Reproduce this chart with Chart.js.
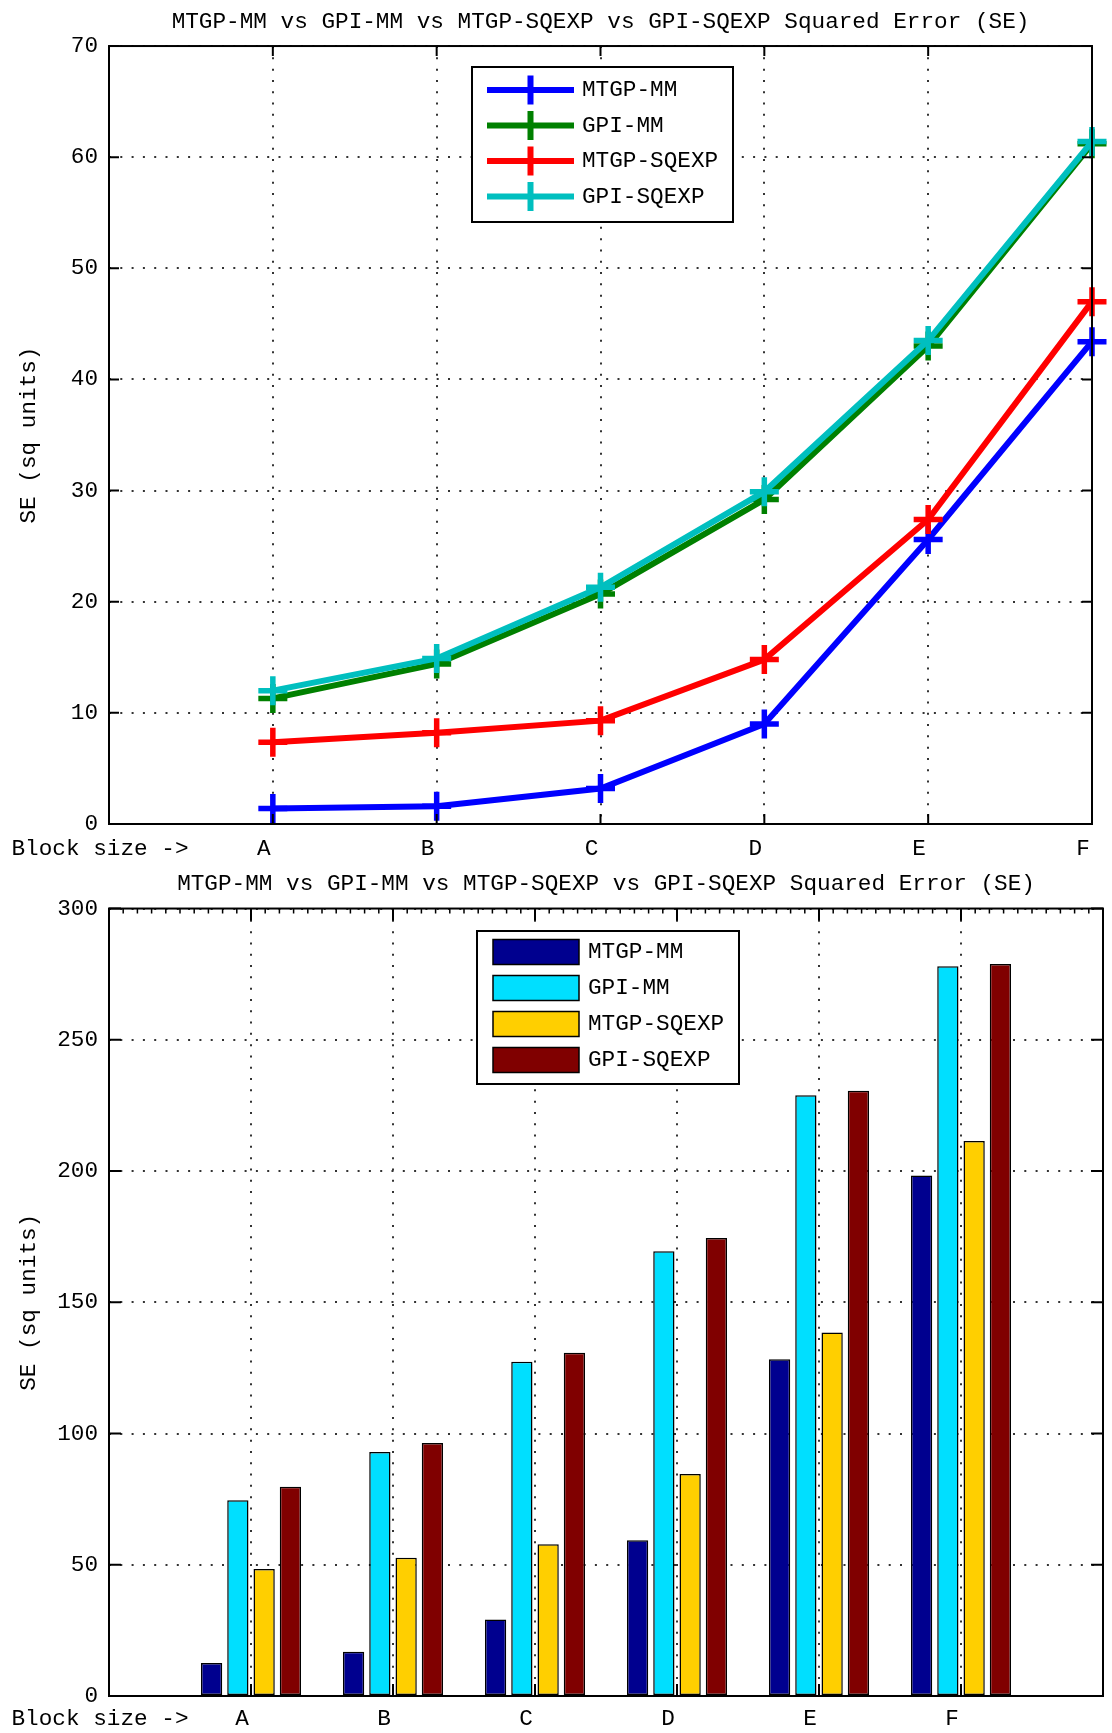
<!DOCTYPE html>
<html>
<head>
<meta charset="utf-8">
<script src="https://cdn.jsdelivr.net/npm/chart.js@4.4.1/dist/chart.umd.min.js"></script>
<style>
  html, body { margin: 0; padding: 0; background: #fff; }
  body { width: 1112px; height: 1733px; position: relative; overflow: hidden; }
  canvas { position: absolute; left: 0; }
  #lineCanvas { top: 0; }
  #barCanvas { top: 866px; }
</style>
</head>
<body>
<canvas id="lineCanvas" width="1112" height="866"></canvas>
<canvas id="barCanvas" width="1112" height="867"></canvas>
<script>
// ---- data ----
const chartTitle = 'MTGP-MM vs GPI-MM vs MTGP-SQEXP vs GPI-SQEXP Squared Error (SE)';
const axisLead = 'Block size ->';
const blockSizes = ['A', 'B', 'C', 'D', 'E', 'F'];
const seriesNames = ['MTGP-MM', 'GPI-MM', 'MTGP-SQEXP', 'GPI-SQEXP'];
const yTitle = 'SE (sq units)';

// line chart values (per block size)
const lineMtgpMm  = [1.4, 1.6, 3.2, 9.0, 25.6, 43.4];
const lineGpiMm   = [11.3, 14.4, 20.7, 29.2, 43.0, 61.2];
const lineMtgpSq  = [7.35, 8.2, 9.3, 14.8, 27.4, 47.0];
const lineGpiSq   = [12.0, 14.9, 21.3, 29.9, 43.5, 61.4];

// bar chart values (per block size)
const barMtgpMm  = [12.6, 16.9, 29.1, 59.3, 128.3, 198.3];
const barGpiMm   = [74.6, 93.0, 127.3, 169.4, 228.9, 278.0];
const barMtgpSq  = [48.4, 52.7, 57.8, 84.6, 138.5, 211.4];
const barGpiSq   = [79.7, 96.4, 130.8, 174.5, 230.6, 278.9];

// ---- styling ----
const FONT = { family: "'Liberation Mono', 'DejaVu Sans Mono', monospace", size: 22.7, weight: 'normal' };
const lineColors = ['#0000FF', '#008000', '#FF0000', '#00BFBF'];
const barColors = ['#00008F', '#00DFFF', '#FFCF00', '#800000'];
const gridStyle = { display: true, color: '#333', lineWidth: 2, drawTicks: false };
const gridBorder = { display: false, dash: [2, 9.3] };

// axes frame with inward tick marks (drawn over the data like a plot box)
const axesBox = {
  id: 'axesBox',
  afterDatasetsDraw(chart, args, o) {
    const { ctx, chartArea: a } = chart;
    const x = chart.scales.x, y = chart.scales.y;
    ctx.save();
    ctx.strokeStyle = '#000';
    ctx.lineWidth = 2;
    ctx.beginPath();
    o.xTicks.forEach(v => {
      const px = x.getPixelForValue(v);
      ctx.moveTo(px, a.bottom); ctx.lineTo(px, a.bottom - o.tickLen);
      ctx.moveTo(px, a.top); ctx.lineTo(px, a.top + o.tickLen);
    });
    y.ticks.forEach(t => {
      const py = y.getPixelForValue(t.value);
      ctx.moveTo(a.left, py); ctx.lineTo(a.left + o.tickLen, py);
      ctx.moveTo(a.right, py); ctx.lineTo(a.right - o.tickLen, py);
    });
    ctx.stroke();
    if (o.minorPerStep) {
      ctx.lineWidth = 1.5;
      ctx.beginPath();
      const n = (x.max - x.min) * o.minorPerStep;
      for (let k = 1; k < n; k++) {
        if (k % o.minorPerStep === 0) continue;
        const px = x.getPixelForValue(x.min + k / o.minorPerStep);
        ctx.moveTo(px, a.top); ctx.lineTo(px, a.top + o.minorLen);
      }
      ctx.stroke();
    }
    ctx.lineWidth = 2;
    ctx.strokeRect(a.left, a.top, a.width, a.height);
    ctx.restore();
  }
};

// boxed legend inside the plot
const boxLegend = {
  id: 'boxLegend',
  afterDraw(chart, args, o) {
    const { ctx } = chart;
    const [l, t, r, b] = o.box;
    ctx.save();
    ctx.fillStyle = '#fff';
    ctx.fillRect(l, t, r - l, b - t);
    ctx.strokeStyle = '#000';
    ctx.lineWidth = 2;
    ctx.strokeRect(l, t, r - l, b - t);
    ctx.font = `${FONT.size}px ${FONT.family}`;
    ctx.textBaseline = 'middle';
    ctx.textAlign = 'left';
    chart.data.datasets.forEach((ds, i) => {
      const yy = o.rowTop + i * o.rowGap;
      const [x0, x1] = o.sample;
      if (o.kind === 'line') {
        ctx.strokeStyle = ds.borderColor;
        ctx.lineWidth = ds.borderWidth;
        ctx.beginPath();
        ctx.moveTo(x0, yy); ctx.lineTo(x1, yy);
        const cx = (x0 + x1) / 2, rr = ds.pointRadius;
        ctx.moveTo(cx, yy - rr); ctx.lineTo(cx, yy + rr);
        ctx.stroke();
      } else {
        ctx.fillStyle = ds.backgroundColor;
        ctx.fillRect(x0, yy - o.swatchH / 2, x1 - x0, o.swatchH);
        ctx.strokeStyle = '#000';
        ctx.lineWidth = 1.5;
        ctx.strokeRect(x0, yy - o.swatchH / 2, x1 - x0, o.swatchH);
      }
      ctx.fillStyle = '#000';
      ctx.fillText(ds.label, o.textX, yy);
    });
    ctx.restore();
  }
};

function yScale(max, step, width) {
  return {
    type: 'linear', min: 0, max: max,
    ticks: { stepSize: step, font: FONT, color: '#000', padding: 11 },
    grid: gridStyle, border: gridBorder,
    title: { display: true, text: yTitle, font: FONT, color: '#000', padding: { top: 15.4, bottom: 0 } },
    afterFit(s) { s.width = width; }
  };
}

function xScale(labels, height, pad) {
  return {
    type: 'category', labels: labels, offset: false,
    ticks: { font: FONT, color: '#000', padding: pad, labelOffset: -9, autoSkip: false, maxRotation: 0, minRotation: 0 },
    grid: Object.assign({}, gridStyle, { offset: false }), border: gridBorder,
    afterFit(s) { s.height = height; }
  };
}

// ---- line chart ----
const lineSeries = [lineMtgpMm, lineGpiMm, lineMtgpSq, lineGpiSq];
new Chart(document.getElementById('lineCanvas'), {
  type: 'line',
  data: {
    labels: [axisLead, ...blockSizes],
    datasets: lineSeries.map((vals, i) => ({
      label: seriesNames[i],
      data: [null, ...vals],
      borderColor: lineColors[i],
      backgroundColor: lineColors[i],
      borderWidth: 6,
      pointStyle: 'cross',
      pointRadius: 14.5,
      pointBorderWidth: 5.5,
      pointBorderColor: lineColors[i],
      tension: 0,
      clip: false,
      order: lineSeries.length - i
    }))
  },
  options: {
    responsive: false, animation: false, events: [],
    layout: { padding: { left: 0, right: 16, top: 0, bottom: 0 } },
    plugins: {
      legend: { display: false }, tooltip: { enabled: false },
      title: { display: true, text: chartTitle, font: FONT, color: '#000', fullSize: false, padding: { top: 8.4, bottom: 10.4 } },
      axesBox: { xTicks: [1, 2, 3, 4, 5, 6], tickLen: 10 },
      boxLegend: { kind: 'line', box: [472, 67, 733, 222], rowTop: 90, rowGap: 35.5, sample: [487, 574], textX: 582 }
    },
    scales: {
      x: xScale([axisLead, ...blockSizes], 42, 11),
      y: yScale(70, 10, 109)
    }
  },
  plugins: [axesBox, boxLegend]
});

// ---- bar chart ----
const barSeries = [barMtgpMm, barGpiMm, barMtgpSq, barGpiSq];
new Chart(document.getElementById('barCanvas'), {
  type: 'bar',
  data: {
    labels: [axisLead, ...blockSizes, ''],
    datasets: barSeries.map((vals, i) => ({
      label: seriesNames[i],
      data: [null, ...vals, null],
      backgroundColor: barColors[i],
      borderColor: '#000',
      borderWidth: 1.5,
      borderSkipped: false,
      categoryPercentage: 0.74,
      barPercentage: 0.81
    }))
  },
  options: {
    responsive: false, animation: false, events: [],
    layout: { padding: { left: 0, right: 7, top: 0, bottom: 0 } },
    plugins: {
      legend: { display: false }, tooltip: { enabled: false },
      title: { display: true, text: chartTitle, font: FONT, color: '#000', fullSize: false, padding: { top: 4.4, bottom: 10.9 } },
      axesBox: { xTicks: [1, 2, 3, 4, 5, 6], tickLen: 12, minorPerStep: 10, minorLen: 5 },
      boxLegend: { kind: 'bar', box: [477, 65, 739, 218], rowTop: 86, rowGap: 36, sample: [493, 579], swatchH: 25, textX: 588 }
    },
    scales: {
      x: xScale([axisLead, ...blockSizes, ''], 37, 9),
      y: yScale(300, 50, 109)
    }
  },
  plugins: [axesBox, boxLegend]
});
</script>
</body>
</html>
